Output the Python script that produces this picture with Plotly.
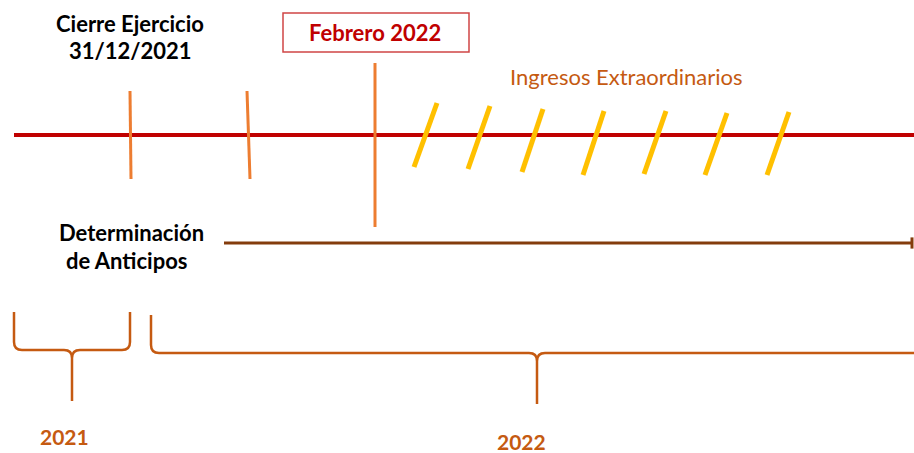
import plotly.graph_objects as go

# ---- diagram data (pixel space of a 914x453 canvas) ----
W, H = 914, 453
timeline_x = [14, 914]
timeline_y = [135, 135]

marker_top_x = [130, 247, 375]
marker_bot_x = [131, 250, 375]
marker_top_y = [91, 91, 63]
marker_bot_y = [179, 179, 227]

slash_top_x = [437, 490, 543, 604, 666, 727, 789]
slash_top_y = [103, 106, 109, 111, 111, 113, 112]
slash_bot_x = [414, 468, 522, 583, 644, 705, 767]
slash_bot_y = [167, 169, 172, 175, 174, 175, 175]

arrow_x = [224, 912]
arrow_y = [243, 243]

# braces: left x, right x, tip x, top y, middle y, tip bottom y
brace_left = [14, 151]
brace_right = [130, 940]
brace_tip = [72, 537]
brace_top = [312, 315]
brace_mid = [350, 353]
brace_bot = [401, 404]
brace_labels = ["2021", "2022"]
brace_label_x = [64, 521]
brace_label_y = [436, 441]

C_RED = "#C00000"
C_ORANGE = "#ED7D31"
C_YELLOW = "#FFC000"
C_BROWN = "#843C0C"
C_RUST = "#C55A11"
FONT = "Lato"

fig = go.Figure()

def segs(x0s, y0s, x1s, y1s):
    xs, ys = [], []
    for a, b, c, d in zip(x0s, y0s, x1s, y1s):
        xs += [a, c, None]
        ys += [b, d, None]
    return xs, ys

fig.add_trace(go.Scatter(x=timeline_x, y=timeline_y, mode="lines",
                         line=dict(color=C_RED, width=4), hoverinfo="skip"))
mx, my = segs(marker_top_x, marker_top_y, marker_bot_x, marker_bot_y)
fig.add_trace(go.Scatter(x=mx, y=my, mode="lines",
                         line=dict(color=C_ORANGE, width=3), hoverinfo="skip"))
sx, sy = segs(slash_top_x, slash_top_y, slash_bot_x, slash_bot_y)
fig.add_trace(go.Scatter(x=sx, y=sy, mode="lines",
                         line=dict(color=C_YELLOW, width=5), hoverinfo="skip"))
fig.add_trace(go.Scatter(x=arrow_x, y=arrow_y, mode="lines",
                         line=dict(color=C_BROWN, width=3), hoverinfo="skip"))
fig.add_trace(go.Scatter(x=[arrow_x[1]], y=[arrow_y[1]], mode="markers",
                         marker=dict(symbol="line-ns", size=8,
                                     line=dict(color=C_BROWN, width=3)),
                         hoverinfo="skip"))

shapes = []
r = 8
for xl, xr, xt, yt, ym, yb in zip(brace_left, brace_right, brace_tip,
                                  brace_top, brace_mid, brace_bot):
    p = (f"M {xl},{yt} L {xl},{ym - r} Q {xl},{ym} {xl + r},{ym} "
         f"L {xt - r},{ym} Q {xt},{ym} {xt},{ym + r} L {xt},{yb} "
         f"M {xt},{ym + r} Q {xt},{ym} {xt + r},{ym} "
         f"L {xr - r},{ym} Q {xr},{ym} {xr},{ym - r} L {xr},{yt}")
    shapes.append(dict(type="path", path=p, xref="x", yref="y",
                       line=dict(color=C_RUST, width=2.5)))

# Febrero box
shapes.append(dict(type="rect", x0=283, x1=469, y0=13, y1=52, xref="x", yref="y",
                   line=dict(color="#D04545", width=1.5), fillcolor="white"))

ann = []
def txt(x, y, t, size, color, bold=True):
    ann.append(dict(x=x, y=y, xref="x", yref="y", text=f"<b>{t}</b>" if bold else t,
                    showarrow=False, xanchor="center", yanchor="middle",
                    font=dict(family=FONT, size=size, color=color)))

txt(130, 23, "Cierre Ejercicio", 22, "black")
txt(130, 50, "31/12/2021", 22, "black")
txt(375, 32, "Febrero 2022", 22, C_RED)
txt(626, 76, "Ingresos Extraordinarios", 22, C_RUST, bold=False)
txt(131, 232, "Determinación", 22, "black")
txt(127, 260, "de Anticipos", 22, "black")
for lab, lx, ly in zip(brace_labels, brace_label_x, brace_label_y):
    txt(lx, ly, lab, 21, C_RUST)

fig.update_layout(
    width=W, height=H, margin=dict(l=0, r=0, t=0, b=0),
    paper_bgcolor="white", plot_bgcolor="white", showlegend=False,
    xaxis=dict(range=[0, W], visible=False, fixedrange=True),
    yaxis=dict(range=[H, 0], visible=False, fixedrange=True),
    shapes=shapes, annotations=ann,
)
fig.write_html("out.html", config={"displayModeBar": False},
               post_script="document.body.style.margin='0';document.body.style.overflow='hidden';")
